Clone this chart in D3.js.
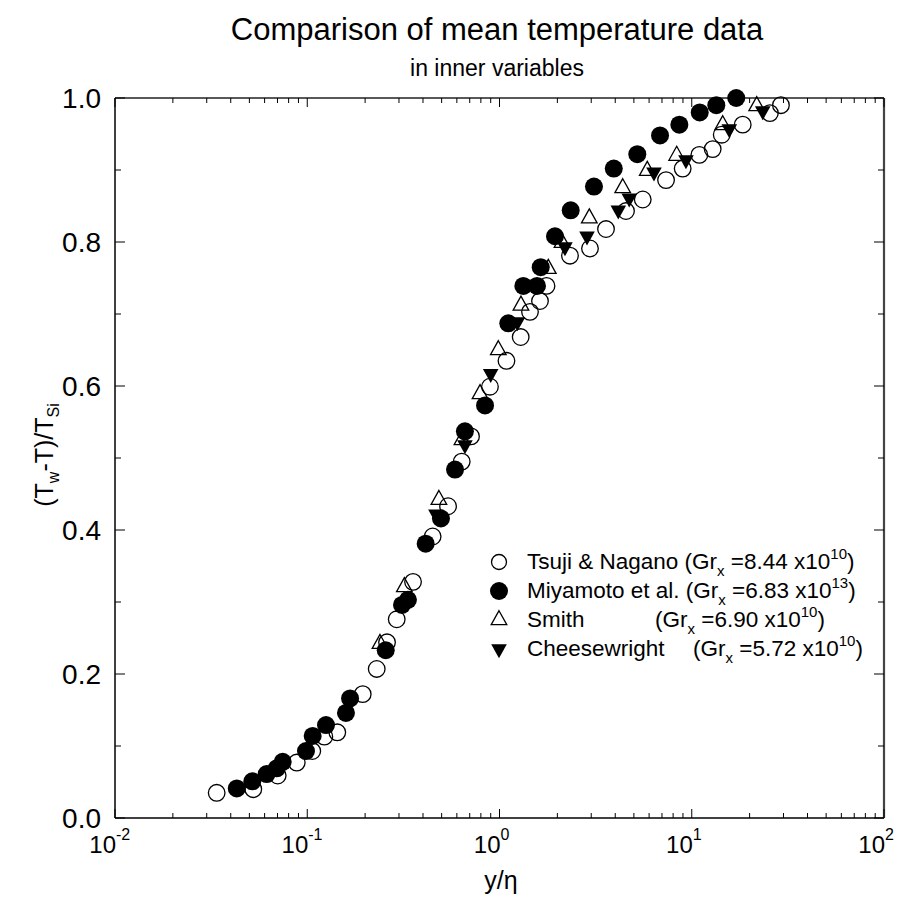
<!DOCTYPE html>
<html><head><meta charset="utf-8">
<script src="https://cdn.jsdelivr.net/npm/d3@7"></script>
<style>
body{margin:0;background:#fff}
svg{display:block;font-family:Arial,"Liberation Sans",Helvetica,sans-serif}
</style>
</head><body>
<svg id="chart" width="909" height="901"></svg>
<script>
// ---------- data ----------
const xTickExponents = [-2, -1, 0, 1, 2];
const yTickValues = [0, 0.2, 0.4, 0.6, 0.8, 1.0];
const yTickLabels = ["0.0", "0.2", "0.4", "0.6", "0.8", "1.0"];
const seriesNames = ["Tsuji & Nagano", "Miyamoto et al.", "Smith", "Cheesewright"];
const grMantissa = ["8.44", "6.83", "6.90", "5.72"];
const grExponent = ["10", "13", "10", "10"];

const tsujiX = [0.0338, 0.0524, 0.0702, 0.0882, 0.1062, 0.1227, 0.1433, 0.1943, 0.2298, 0.260, 0.292, 0.355, 0.449, 0.540, 0.636, 0.711, 0.892, 1.087, 1.289, 1.441, 1.624, 1.756, 2.326, 2.956, 3.581, 4.55, 5.56, 7.35, 8.97, 10.95, 12.85, 14.32, 18.41, 25.5, 29.1];
const tsujiY = [0.035, 0.040, 0.059, 0.077, 0.093, 0.113, 0.119, 0.172, 0.207, 0.244, 0.276, 0.328, 0.391, 0.433, 0.495, 0.530, 0.599, 0.635, 0.668, 0.703, 0.718, 0.739, 0.781, 0.791, 0.818, 0.843, 0.859, 0.886, 0.902, 0.921, 0.929, 0.949, 0.963, 0.979, 0.990];

const miyamotoX = [0.0430, 0.0518, 0.0615, 0.0694, 0.0745, 0.0985, 0.1067, 0.1252, 0.159, 0.167, 0.256, 0.311, 0.334, 0.413, 0.496, 0.587, 0.661, 0.841, 1.111, 1.330, 1.567, 1.638, 1.944, 2.346, 3.10, 3.93, 5.21, 6.84, 8.62, 11.0, 13.42, 17.04];
const miyamotoY = [0.041, 0.051, 0.061, 0.069, 0.078, 0.093, 0.114, 0.129, 0.146, 0.166, 0.233, 0.296, 0.303, 0.381, 0.416, 0.484, 0.537, 0.573, 0.687, 0.739, 0.739, 0.765, 0.808, 0.844, 0.877, 0.902, 0.922, 0.948, 0.963, 0.980, 0.990, 1.000];

const smithX = [0.239, 0.320, 0.484, 0.638, 0.792, 0.986, 1.293, 1.794, 2.114, 2.932, 4.374, 5.87, 8.35, 14.49, 21.77];
const smithY = [0.242, 0.321, 0.442, 0.525, 0.589, 0.650, 0.712, 0.763, 0.799, 0.833, 0.875, 0.899, 0.920, 0.9625, 0.989];

const cheeseX = [0.467, 0.661, 0.900, 1.240, 2.19, 2.852, 4.15, 4.73, 6.36, 9.33, 15.68, 23.4];
const cheeseY = [0.422, 0.518, 0.617, 0.689, 0.793, 0.808, 0.844, 0.861, 0.897, 0.914, 0.957, 0.982];

// ---------- layout ----------
const svg = d3.select("#chart");
const L = 115, R = 884, T = 98, B = 818;
const x = d3.scaleLog().domain([0.01, 100]).range([L, R]);
const y = d3.scaleLinear().domain([0, 1]).range([B, T]);

// title
svg.append("text").attr("x", 497).attr("y", 40).attr("text-anchor", "middle")
  .attr("font-size", 31).text("Comparison of mean temperature data");
svg.append("text").attr("x", 497).attr("y", 76).attr("text-anchor", "middle")
  .attr("font-size", 23).text("in inner variables");

// frame
const g = svg.append("g");
g.append("line").attr("x1", L).attr("x2", R).attr("y1", B).attr("y2", B).attr("stroke", "#000").attr("stroke-width", 1.5);
g.append("line").attr("x1", L).attr("x2", L).attr("y1", T).attr("y2", B).attr("stroke", "#000").attr("stroke-width", 1.5);
g.append("line").attr("x1", L).attr("x2", R).attr("y1", T).attr("y2", T).attr("stroke", "#222").attr("stroke-width", 1.5);
g.append("line").attr("x1", R).attr("x2", R).attr("y1", T).attr("y2", B).attr("stroke", "#444").attr("stroke-width", 2.2);

// x ticks (log)
const xt = x.ticks();
xt.forEach(v => {
  const major = Math.abs(Math.log10(v) - Math.round(Math.log10(v))) < 1e-9;
  const len = major ? 9 : 5;
  const px = x(v);
  g.append("line").attr("x1", px).attr("x2", px).attr("y1", B).attr("y2", B - len).attr("stroke", "#000").attr("stroke-width", 1);
  g.append("line").attr("x1", px).attr("x2", px).attr("y1", T).attr("y2", T + len).attr("stroke", "#000").attr("stroke-width", 1);
});
// y ticks
d3.range(0, 1.0001, 0.1).forEach((v, i) => {
  const len = i % 2 === 0 ? 10 : 6;
  const py = y(v);
  g.append("line").attr("x1", L).attr("x2", L + len).attr("y1", py).attr("y2", py).attr("stroke", "#000").attr("stroke-width", 1);
  g.append("line").attr("x1", R).attr("x2", R - len).attr("y1", py).attr("y2", py).attr("stroke", "#000").attr("stroke-width", 1);
});

// x tick labels
xTickExponents.forEach(e => {
  const px = x(Math.pow(10, e));
  svg.append("text").attr("x", px + 1).attr("y", 853).attr("text-anchor", "end")
    .attr("font-size", 24).text("10");
  svg.append("text").attr("x", px + 1).attr("y", 840).attr("text-anchor", "start")
    .attr("font-size", 16).text(e < 0 ? "-" + Math.abs(e) : String(e));
});
// y tick labels
yTickValues.forEach((v, i) => {
  svg.append("text").attr("x", 101).attr("y", y(v)).attr("dy", "0.36em")
    .attr("text-anchor", "end").attr("font-size", 28).text(yTickLabels[i]);
});

// axis titles
svg.append("text").attr("x", 501).attr("y", 889).attr("text-anchor", "middle")
  .attr("font-size", 25).text("y/η");
const yl = svg.append("text").attr("transform", "translate(53,455) rotate(-90)")
  .attr("text-anchor", "middle").attr("font-size", 25);
yl.append("tspan").text("(T");
yl.append("tspan").attr("font-size", 16).attr("dy", 6).text("w");
yl.append("tspan").attr("dy", -6).text("-T)/T");
yl.append("tspan").attr("font-size", 16).attr("dy", 6).text("Si");

// markers
const upTri = "M0,-9.3L7.8,4.7L-7.8,4.7Z";
const downTri = "M-7.8,-4.7L7.8,-4.7L0,9.3Z";
const plot = svg.append("g");
function drawSeries(xs, ys, kind) {
  const data = xs.map((v, i) => [v, ys[i]]);
  if (kind === "open") {
    plot.append("g").selectAll("circle").data(data).join("circle")
      .attr("cx", d => x(d[0])).attr("cy", d => y(d[1])).attr("r", 8.3)
      .attr("fill", "none").attr("stroke", "#000").attr("stroke-width", 1.3);
  } else if (kind === "filled") {
    plot.append("g").selectAll("circle").data(data).join("circle")
      .attr("cx", d => x(d[0])).attr("cy", d => y(d[1])).attr("r", 9)
      .attr("fill", "#000");
  } else if (kind === "tri") {
    plot.append("g").selectAll("path").data(data).join("path")
      .attr("transform", d => `translate(${x(d[0])},${y(d[1])})`).attr("d", upTri)
      .attr("fill", "none").attr("stroke", "#000").attr("stroke-width", 1.3);
  } else {
    plot.append("g").selectAll("path").data(data).join("path")
      .attr("transform", d => `translate(${x(d[0])},${y(d[1])})`).attr("d", downTri)
      .attr("fill", "#000");
  }
}
drawSeries(tsujiX, tsujiY, "open");
drawSeries(miyamotoX, miyamotoY, "filled");
drawSeries(smithX, smithY, "tri");
drawSeries(cheeseX, cheeseY, "down");

// legend
const kinds = ["open", "filled", "tri", "down"];
const grX = [null, null, 655, 693];
const lg = svg.append("g");
seriesNames.forEach((name, i) => {
  const by = 569 + i * 29;
  const cy = by - 7;
  const k = kinds[i];
  if (k === "open") lg.append("circle").attr("cx", 499).attr("cy", cy).attr("r", 7.5).attr("fill", "none").attr("stroke", "#000").attr("stroke-width", 1.3);
  else if (k === "filled") lg.append("circle").attr("cx", 499).attr("cy", cy).attr("r", 9).attr("fill", "#000");
  else if (k === "tri") lg.append("path").attr("transform", `translate(499,${cy})`).attr("d", upTri).attr("fill", "none").attr("stroke", "#000").attr("stroke-width", 1.3);
  else lg.append("path").attr("transform", `translate(499,${cy})`).attr("d", downTri).attr("fill", "#000");
  const t = lg.append("text").attr("x", 527).attr("y", by).attr("font-size", 22.5);
  if (grX[i] === null) {
    t.append("tspan").text(name + " (Gr");
  } else {
    t.append("tspan").text(name);
    t.append("tspan").attr("x", grX[i]).text("(Gr");
  }
  t.append("tspan").attr("font-size", 15).attr("dy", 7).text("x");
  t.append("tspan").attr("dy", -7).text(" =" + grMantissa[i] + " x10");
  t.append("tspan").attr("font-size", 15).attr("dy", -10).text(grExponent[i]);
  t.append("tspan").attr("dy", 10).text(")");
});
</script>
</body></html>
